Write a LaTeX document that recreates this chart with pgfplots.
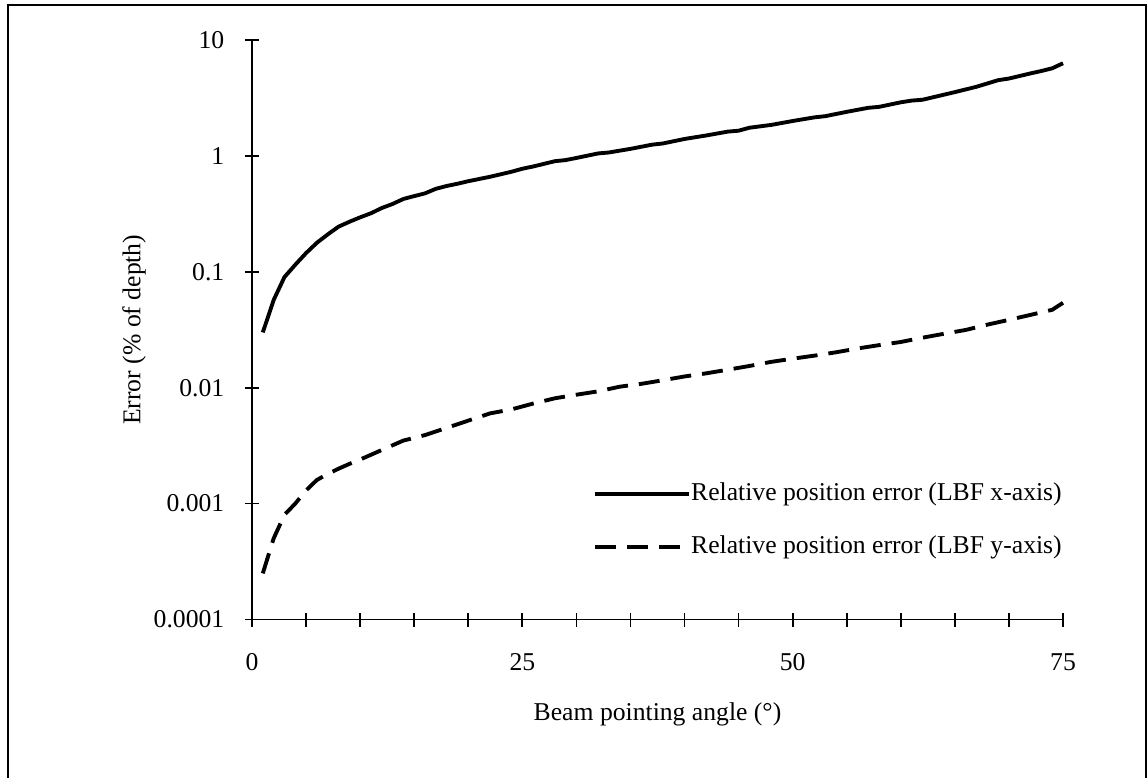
\documentclass[border=0pt]{standalone}
\usepackage{fontspec}
\setmainfont{Liberation Serif}
\usepackage{pgfplots}
\pgfplotsset{compat=1.18}

\pgfplotstableread{
x y
1 0.030
2 0.057
3 0.090
4 0.115
5 0.145
6 0.178
7 0.21
8 0.245
9 0.27
10 0.295
11 0.32
12 0.355
13 0.385
14 0.425
15 0.45
16 0.475
17 0.52
18 0.55
19 0.575
20 0.605
22 0.66
24 0.73
25 0.775
26 0.81
28 0.90
29 0.92
30 0.96
32 1.05
33 1.07
35 1.15
37 1.25
38 1.28
40 1.40
42 1.50
44 1.62
45 1.65
46 1.75
48 1.85
50 2.0
52 2.15
53 2.2
55 2.4
57 2.6
58 2.65
60 2.9
61 3.0
62 3.05
65 3.55
67 3.95
69 4.5
70 4.65
72 5.15
73 5.4
74 5.7
75 6.3
}\xerr

\pgfplotstableread{
x y
1 0.00025
2 0.0005
3 0.0008
4 0.001
5 0.0013
6 0.0016
7 0.0018
8 0.002
9 0.0022
10 0.0024
12 0.0029
14 0.0035
16 0.0039
18 0.0045
20 0.0052
22 0.006
24 0.0065
26 0.0073
28 0.0081
30 0.0087
32 0.0093
34 0.0102
36 0.0108
38 0.0116
40 0.0125
42 0.0133
44 0.0143
46 0.0154
48 0.0167
50 0.0178
52 0.0189
54 0.0202
56 0.0218
58 0.0233
60 0.0248
62 0.027
64 0.0292
66 0.0315
68 0.035
70 0.0385
72 0.0425
74 0.047
75 0.054
}\yerr

\begin{document}
\fontsize{7.3}{8.8}\selectfont
\begin{tikzpicture}
\useasboundingbox (-25.2mm,-15.75mm) rectangle (89.5mm,61.95mm);
\begin{axis}[
  at={(0,0)},anchor=south west,
  scale only axis,width=81.1mm,height=57.95mm,
  ymode=log,xmin=0,xmax=75,ymin=1e-4,ymax=10,
  axis x line=bottom,axis y line=left,axis line style={-,line width=0.5pt},
  xtick={0,25,50,75},xticklabels={0,25,50,75},
  minor xtick={5,10,15,20,30,35,40,45,55,60,65,70},
  ytick={1e-4,1e-3,1e-2,1e-1,1,10},
  yticklabels={0.0001,0.001,0.01,0.1,1,10},
  yminorticks=false,
  tick align=center,major tick length=1.4mm,minor tick length=1.4mm,
  tick style={black,line width=0.5pt},
  every tick label/.append style={font=\fontsize{7.3}{8.8}\selectfont},
  xticklabel style={anchor=center,inner sep=0pt,yshift=-3.6mm},
  yticklabel style={anchor=east,inner sep=0pt,xshift=-2mm},
  xlabel={Beam pointing angle (°)},
  ylabel={Error (\% of depth)},
  xlabel style={at={(axis description cs:0.5,-0.163)},anchor=center},
  ylabel style={at={(axis description cs:-0.1455,0.5)},anchor=center,rotate=0},
  label style={font=\fontsize{7.3}{8.8}\selectfont},
  legend style={draw=none,fill=none,at={(0.407,0.252)},anchor=north west,
    font=\fontsize{7.3}{8.8}\selectfont,row sep=2.8mm,
    nodes={inner sep=0pt,text height=1.9mm,text depth=0.6mm},
    /tikz/every even column/.append style={column sep=0pt}},
  legend cell align=left,
  legend image code/.code={\draw[#1] (0mm,0mm) -- (9.4mm,0mm);},
  clip=false,
]
\addplot[black,line width=1.1pt,line join=round] table[x=x,y=y] {\xerr};
\addlegendentry{Relative position error (LBF x-axis)}
\addplot[black,line width=1.1pt,dash pattern=on 2.1mm off 1.1mm] table[x=x,y=y] {\yerr};
\addlegendentry{Relative position error (LBF y-axis)}
\end{axis}
\draw[line width=0.8pt] (-24.4mm,-16mm) -- (-24.4mm,61.45mm) -- (89.4mm,61.45mm) -- (89.4mm,-16mm);
\end{tikzpicture}
\end{document}
